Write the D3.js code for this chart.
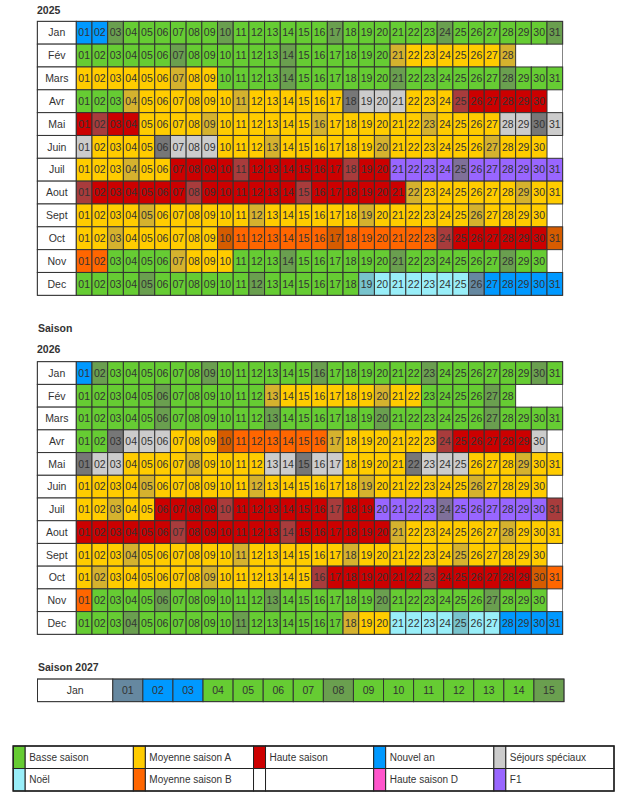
<!DOCTYPE html>
<html><head><meta charset="utf-8">
<script src="https://cdn.jsdelivr.net/npm/d3@7"></script>
<style>body{margin:0;background:#fff}svg{display:block}text{font-family:"Liberation Sans",Arial,sans-serif;fill:#333}</style>
</head><body>
<script>
// Month labels
const months = ["Jan","Fév","Mars","Avr","Mai","Juin","Juil","Aout","Sept","Oct","Nov","Dec"];
// Season code per day (lowercase = normal, uppercase = shaded day)
// g Basse saison, y Moyenne A, r Haute, b Nouvel an, s Séjours spéciaux, c Noël, o Moyenne B, p F1, m Haute D
const seasons2025 = [
  "bbGggggggGggggggGggggggGggggggG",
  "ggggggGggggggGggggggYyyyyyyY",
  "yyyyyyYyyggggGggggggGggggggGggg",
  "gggYyyyyyyYyyyyyySsssyyyRrrrrr",
  "rRrryyyyYyyyyyyYyyyyyyYyyyyssSs",
  "syyyySsssyyyYyyyyyyYyyyyyyYyyy",
  "yyyYyyrrrrRrrrrrrRrrppppPpppppp",
  "RrrrrrrRrrrrrrRrrrrrrYyyyyyyYyy",
  "yyyyYyyyyyyYyyyyyyYyyyyyyYyyyy",
  "yyYyyyyyyOooooooOooooooRrrrrrrO",
  "ooggggYyyygggGggggggGggggggGgg",
  "ggggGggggggGggggggCccccccBbbbbb"
];
const seasons2026 = [
  "bGggggggGggggggGggggggGggggggGg",
  "gggggGggggggYyyyyyyYyyggggGg",
  "gggggGggggggGggggggGggggggGgggg",
  "ggSsssyyyOooooooYyyyyyyRrrrrrs",
  "SssyyyyYyyyyssSssyyyySsssyyyYyy",
  "yyyyYyyyyyyYyyyyyyYyyyyyyYyyyy",
  "yyYyyrrrrRrrrrrrRrrppppPppppppR",
  "rrrrrrRrrrrrrRrrrrrrYyyyyyyYyyy",
  "yyyYyyyyyyYyyyyyyYyyyyyyYyyyyy",
  "yYyyyyyyYyyyyyyRrrrrrrRrrrrrrOo",
  "oggggGggggggGggggggGggggggGggg",
  "gggGggggggGggggggYyyccccCccbbbb"
];
const months2027 = ["Jan"];
const seasons2027 = ["BbbggggGggggggG"];
const legendKeys = ["g","y","r","b","s","c","o","w","m","p"];
const legendLabels = ["Basse saison","Moyenne saison A","Haute saison","Nouvel an","Séjours spéciaux",
                      "Noël","Moyenne saison B","","Haute saison D","F1"];

const colors = {g:"#66cc33",y:"#ffcc00",r:"#cc0000",b:"#0099ff",s:"#cccccc",c:"#99eef8",o:"#ff6600",p:"#9966ff",m:"#ff55cc",w:"#ffffff"};
const shaded = {g:"#6a9f4f",y:"#d5b22e",r:"#a83c3c",b:"#6688a0",s:"#777777",c:"#78c3cc",o:"#d65c00",p:"#7f7099",m:"#c05599",w:"#dddddd"};
const fillOf = ch => ch === ch.toUpperCase() ? shaded[ch.toLowerCase()] : colors[ch];

const svg = d3.select("body").append("svg").attr("width",625).attr("height",800);

function title(txt, x, y){
  svg.append("text").attr("x",x).attr("y",y).attr("font-size","10.5px").attr("font-weight","bold").text(txt);
}

function grid(monthList, seasonList, top, bottom, labelLeft, labelRight, right, nDays){
  const g = svg.append("g");
  const x = d3.scaleBand().domain(d3.range(1,nDays+1)).range([labelRight,right]);
  const y = d3.scaleBand().domain(monthList).range([top,bottom]);
  const rows = g.selectAll("g.row").data(monthList.map((m,i)=>({m, s:seasonList[i]}))).join("g");
  rows.append("rect").attr("x",labelLeft).attr("y",d=>y(d.m)).attr("width",labelRight-labelLeft).attr("height",y.bandwidth())
    .attr("fill","#fff").attr("stroke","#333").attr("stroke-width",1);
  rows.append("text").attr("x",(labelLeft+labelRight)/2).attr("y",d=>y(d.m)+y.bandwidth()/2).attr("dy","0.36em")
    .attr("text-anchor","middle").attr("font-size","10.5px").text(d=>d.m);
  rows.each(function(d){
    const days = d.s.split("").map((ch,i)=>({day:i+1,ch}));
    const cells = d3.select(this).selectAll("g.cell").data(days).join("g");
    cells.append("rect").attr("x",c=>x(c.day)).attr("y",y(d.m)).attr("width",x.bandwidth()).attr("height",y.bandwidth())
      .attr("fill",c=>fillOf(c.ch)).attr("stroke","#333").attr("stroke-width",1);
    cells.append("text").attr("x",c=>x(c.day)+x.bandwidth()/2).attr("y",y(d.m)+y.bandwidth()/2).attr("dy","0.36em")
      .attr("text-anchor","middle").attr("font-size","10.5px").text(c=>d3.format("02d")(c.day));
  });
  // outer border
  const maxDays = d3.max(seasonList, s=>s.length);
  g.append("rect").attr("x",labelLeft).attr("y",top).attr("width",x(maxDays)+x.bandwidth()-labelLeft).attr("height",bottom-top)
    .attr("fill","none").attr("stroke","#333").attr("stroke-width",0.6);
}

title("2025",37,14);
grid(months, seasons2025, 21.3, 295.3, 37.3, 76.3, 562.7, 31);
title("Saison",38,332);
title("2026",37,353);
grid(months, seasons2026, 361.7, 634.3, 37.3, 76.3, 562.7, 31);
title("Saison 2027",38,671);
grid(months2027, seasons2027, 679, 701.7, 37.5, 112.8, 564, 15);

// legend
const lg = svg.append("g");
const lx = d3.scaleBand().domain(d3.range(5)).range([13.2,614]);
const ly = d3.scaleBand().domain(d3.range(2)).range([746,791]);
const items = legendKeys.map((k,i)=>({k, label:legendLabels[i], col:i%5, row:Math.floor(i/5)}));
const li = lg.selectAll("g").data(items).join("g");
li.append("rect").attr("x",d=>lx(d.col)).attr("y",d=>ly(d.row)).attr("width",12).attr("height",ly.bandwidth())
  .attr("fill",d=>colors[d.k]).attr("stroke","#222").attr("stroke-width",1);
li.append("rect").attr("x",d=>lx(d.col)+12).attr("y",d=>ly(d.row)).attr("width",lx.bandwidth()-12).attr("height",ly.bandwidth())
  .attr("fill","#fff").attr("stroke","#222").attr("stroke-width",1);
li.append("text").attr("x",d=>lx(d.col)+16).attr("y",d=>ly(d.row)+ly.bandwidth()/2).attr("dy","0.36em")
  .attr("font-size","10px").text(d=>d.label);
lg.append("rect").attr("x",13.2).attr("y",746).attr("width",614-13.2).attr("height",45).attr("fill","none").attr("stroke","#222").attr("stroke-width",1.5);
</script>
</body></html>
